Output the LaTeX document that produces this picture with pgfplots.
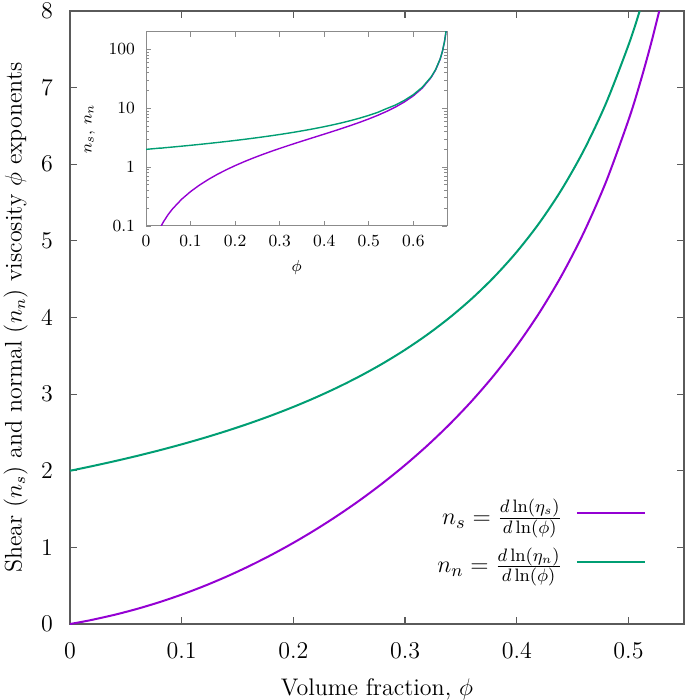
\documentclass[border=0pt]{standalone}
\usepackage{pgfplots}
\pgfplotsset{compat=1.18}
\definecolor{cS}{RGB}{148,0,211}
\definecolor{cN}{RGB}{0,158,115}
\definecolor{axgray}{RGB}{90,90,90}

\pgfplotstableread{
phi ns nn
0.00 0.00000 2.00000
0.01 0.02626 2.02985
0.02 0.05506 2.06061
0.04 0.12059 2.12500
0.06 0.19701 2.19355
0.08 0.28468 2.26667
0.10 0.38386 2.34483
0.12 0.49476 2.42857
0.14 0.61757 2.51852
0.16 0.75250 2.61538
0.18 0.89975 2.72000
0.20 1.05966 2.83333
0.22 1.23270 2.95652
0.24 1.41956 3.09091
0.26 1.62103 3.23810
0.28 1.83889 3.40000
0.30 2.07443 3.57895
0.32 2.33011 3.77778
0.34 2.60902 4.00000
0.36 2.91516 4.25000
0.38 3.25370 4.53333
0.40 3.63156 4.85714
0.42 4.05785 5.23077
0.44 4.54482 5.66667
0.46 5.10938 6.18182
0.48 5.77516 6.80000
0.50 6.57652 7.55556
0.51 7.04313 8.00000
0.52 7.56484 8.50000
0.53 8.15265 9.06667
0.54 8.82117 9.85714
}\maintab

\pgfplotstableread{
phi ns nn
0.000 0.00001 2.00000
0.030 0.08649 2.09836
0.035 0.10320 2.10219
0.040 0.12059 2.12500
0.050 0.15742 2.15873
0.060 0.19701 2.19355
0.080 0.28468 2.26667
0.100 0.38386 2.34483
0.120 0.49476 2.42857
0.140 0.61757 2.51852
0.160 0.75250 2.61538
0.180 0.89975 2.72000
0.200 1.05966 2.83333
0.220 1.23270 2.95652
0.240 1.41956 3.09091
0.260 1.62103 3.23810
0.280 1.83889 3.40000
0.300 2.07443 3.57895
0.320 2.33011 3.77778
0.340 2.60902 4.00000
0.360 2.91516 4.25000
0.380 3.25370 4.53333
0.400 3.63156 4.85714
0.420 4.05785 5.23077
0.440 4.54482 5.66667
0.460 5.10938 6.18182
0.480 5.77516 6.80000
0.500 6.57652 7.55556
0.520 7.56484 8.50000
0.540 8.82117 9.85714
0.560 10.4803 11.3333
0.580 12.7855 13.6000
0.600 16.2219 17.0000
0.620 21.9234 22.6667
0.640 33.2903 34.0000
0.650 44.6390 45.3333
0.660 67.3213 68.0000
0.665 89.9955 90.6667
0.670 135.337 136.000
0.6725 180.65 181.333
0.674 226.00 226.667
}\insettab

\begin{document}
\begin{tikzpicture}
\begin{axis}[
  name=main,
  at={(0,0)}, anchor=south west,
  scale only axis,
  width=307pt, height=306.5pt,
  font=\fontsize{12}{14}\selectfont,
  xmin=0, xmax=0.5497, ymin=0, ymax=8,
  xtick={0,0.1,0.2,0.3,0.4,0.5},
  xticklabels={0,0.1,0.2,0.3,0.4,0.5},
  ytick={0,1,2,3,4,5,6,7,8},
  tick align=inside,
  xtick pos=both, ytick pos=both,
  major tick length=3.5pt,
  axis line style={axgray, line width=0.6pt},
  every tick/.style={axgray, line width=0.6pt},
  xticklabel style={inner sep=0pt, yshift=-9pt},
  yticklabel style={inner sep=0pt, xshift=-8.3pt},
  xlabel={Volume fraction, $\phi$},
  ylabel={Shear ($n_s$) and normal ($n_n$) viscosity $\phi$ exponents},
  xlabel style={at={(axis description cs:0.5,-0.1166)}, anchor=base},
  ylabel style={at={(axis description cs:-0.0788,0.5)}, anchor=base},
  legend plot pos=right,
  legend cell align=right,
  legend style={draw=none, fill=none, at={(0.9485,0.141)}, anchor=east,
    row sep=6pt, font=\fontsize{13}{15}\selectfont},
  legend image code/.code={\path (0pt,0pt); \draw[#1] (5pt,0pt) -- (39pt,0pt);},
]
\addplot[cS, line width=1pt, smooth] table[x=phi, y=ns] {\maintab};
\addlegendentry{$n_s = \frac{d\ln(\eta_s)}{d\ln(\phi)}$}
\addplot[cN, line width=1pt, smooth] table[x=phi, y=nn] {\maintab};
\addlegendentry{$n_n = \frac{d\ln(\eta_n)}{d\ln(\phi)}$}
\end{axis}

\begin{axis}[
  at={(38pt,199pt)}, anchor=south west,
  scale only axis,
  width=150.6pt, height=97.2pt,
  font=\fontsize{8.5}{10}\selectfont,
  xmin=0, xmax=0.676, ymin=0.1, ymax=200,
  ymode=log,
  xtick={0,0.1,0.2,0.3,0.4,0.5,0.6},
  xticklabels={0,0.1,0.2,0.3,0.4,0.5,0.6},
  ytick={0.1,1,10,100},
  yticklabels={0.1,1,10,100},
  minor ytick={0.2,0.3,0.4,0.5,0.6,0.7,0.8,0.9,2,3,4,5,6,7,8,9,20,30,40,50,60,70,80,90,200},
  tick align=inside,
  xtick pos=both, ytick pos=both,
  major tick length=2.5pt, minor tick length=1.5pt,
  axis line style={axgray!70, line width=0.5pt},
  every tick/.style={axgray!70, line width=0.4pt},
  xticklabel style={yshift=-1pt},
  yticklabel style={xshift=-2pt},
  xlabel={$\phi$},
  ylabel={$n_s$, $n_n$},
]
\addplot[cS, line width=0.7pt] table[x=phi, y=ns] {\insettab};
\addplot[cN, line width=0.7pt] table[x=phi, y=nn] {\insettab};
\end{axis}
\pgfresetboundingbox
\path[use as bounding box] (-35pt,-38pt) rectangle (307.85pt,312pt);
\end{tikzpicture}
\end{document}
